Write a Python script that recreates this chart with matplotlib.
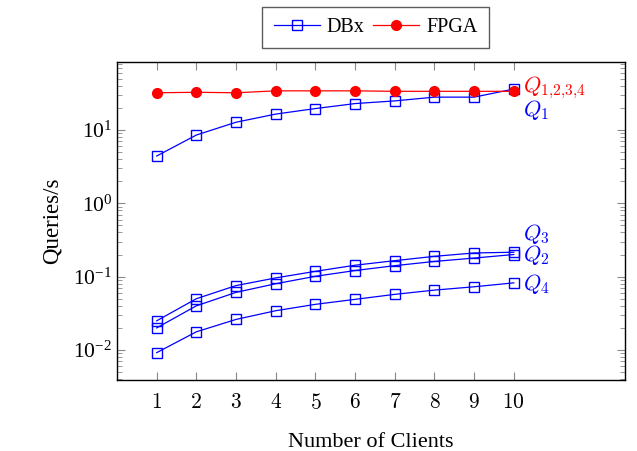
import matplotlib
matplotlib.use("Agg")
import matplotlib.pyplot as plt
from matplotlib.ticker import LogLocator, NullFormatter

plt.rcParams['font.family'] = ['Liberation Serif', 'DejaVu Serif']
plt.rcParams['mathtext.fontset'] = 'cm'
plt.rcParams['axes.formatter.use_mathtext'] = True

# Данные
clients = [1, 2, 3, 4, 5, 6, 7, 8, 9, 10]
fpga = [32, 32.5, 32, 34, 34, 34, 33.5, 33.5, 33.5, 33.5]
dbx_q1 = [4.4, 8.5, 12.7, 16.4, 19.5, 22.8, 24.8, 27.9, 27.9, 36]
dbx_q2 = [0.020, 0.040, 0.061, 0.080, 0.101, 0.121, 0.141, 0.161, 0.179, 0.200]
dbx_q3 = [0.025, 0.050, 0.0755, 0.096, 0.118, 0.143, 0.165, 0.189, 0.210, 0.215]
dbx_q4 = [0.0092, 0.0177, 0.0261, 0.0343, 0.0419, 0.049, 0.0573, 0.0655, 0.0727, 0.0822]

fig = plt.figure(figsize=(6.37, 4.51), dpi=100)
ax = fig.add_axes([0.1837, 0.1574, 0.7973, 0.7051])

blue = '#0000ff'
red = '#ff0000'
mk = dict(marker='s', markersize=7, markerfacecolor='none', markeredgecolor=blue,
          markeredgewidth=1.0, color=blue, linewidth=0.9)

ax.plot(clients, dbx_q1, label='DBx', **mk)
ax.plot(clients, fpga, color=red, marker='o', markersize=7, linewidth=0.9, label='FPGA')
ax.plot(clients, dbx_q2, **mk)
ax.plot(clients, dbx_q3, **mk)
ax.plot(clients, dbx_q4, **mk)

# Подписи серий
fs_q = 16
ax.text(10.22, 37, r'$Q_{1{,}2{,}3{,}4}$', color=red, fontsize=fs_q, va='center')
ax.text(10.22, 18.5, r'$Q_1$', color=blue, fontsize=fs_q, va='center')
ax.text(10.22, 0.385, r'$Q_3$', color=blue, fontsize=fs_q, va='center')
ax.text(10.22, 0.2, r'$Q_2$', color=blue, fontsize=fs_q, va='center')
ax.text(10.22, 0.08, r'$Q_4$', color=blue, fontsize=fs_q, va='center')

ax.set_yscale('log')
ax.set_xlim(0, 12.8)
ax.set_ylim(0.0039, 84)
ax.set_xticks(clients)
ax.set_xticklabels([f'${c}$' for c in clients])
ax.yaxis.set_major_locator(LogLocator(base=10, numticks=10))
ax.yaxis.set_minor_locator(LogLocator(base=10, subs=range(2, 10), numticks=20))
ax.yaxis.set_minor_formatter(NullFormatter())

ax.tick_params(which='both', direction='in', top=True, right=True, labelsize=15.5,
               color='#888888')
ax.tick_params(which='major', length=6, width=0.8)
ax.tick_params(which='minor', length=3.5, width=0.6)
ax.tick_params(axis='x', pad=10)
for s in ax.spines.values():
    s.set_linewidth(1.0)

ax.set_xlabel('Number of Clients', fontsize=16, labelpad=14)
ax.set_ylabel('Queries/s', fontsize=16.5, labelpad=8)

leg = ax.legend(loc='upper center', bbox_to_anchor=(375.5 / 637, 1 - 7 / 451),
                bbox_transform=fig.transFigure, ncol=2, frameon=True, fancybox=False,
                edgecolor='#333333', fontsize=14.5, handlelength=2.3, columnspacing=0.4,
                handletextpad=0.35, borderpad=0.55, borderaxespad=0)
leg.get_frame().set_linewidth(1.0)

fig.savefig('out.png', dpi=100)
